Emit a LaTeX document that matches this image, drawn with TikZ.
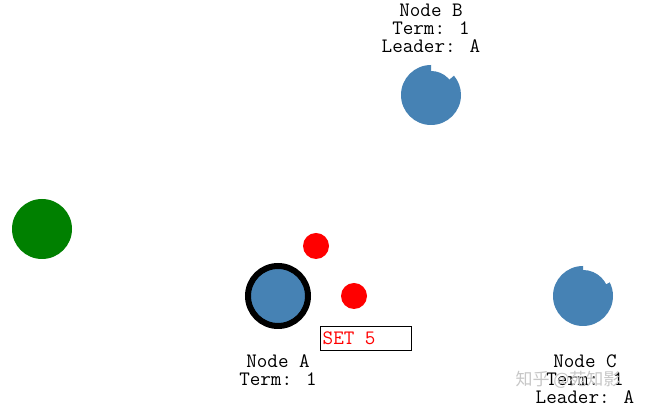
\documentclass[tikz,border=0pt]{standalone}
\usepackage{fontspec}
\newfontfamily\cjk{Noto Sans CJK SC}
\definecolor{steel}{RGB}{70,130,180}
\definecolor{grn}{RGB}{0,128,0}
\definecolor{rd}{RGB}{255,0,0}
\begin{document}
\begin{tikzpicture}[x=1pt,y=1pt,
  lbl/.style={align=center,inner sep=0pt,font=\ttfamily\fontsize{20.5}{18}\selectfont},
  srv/.style={circle,fill=steel,minimum size=60pt,inner sep=0pt},
  msg/.style={circle,fill=rd,minimum size=26pt,inner sep=0pt}]
\useasboundingbox[fill=white] (0,0) rectangle (653,411);
% green client
\node[circle,fill=grn,minimum size=60pt,inner sep=0pt] (client) at (42,182) {};
% Node A (leader)
\node[srv,draw=black,line width=6pt,minimum size=60pt] (A) at (278,115) {};
\node[lbl] (Alabel) at (278,41) {Node A\\Term: 1};
% Node B
\coordinate (B) at (431,316);
\fill[steel] (B) circle[radius=24];
\fill[steel] (B) -- ++(90:30) arc[start angle=90,end angle=400,radius=30] -- cycle;
\node[lbl] (Blabel) at (431,383) {Node B\\Term: 1\\Leader: A};
% Node C
\coordinate (C) at (583,115);
\fill[steel] (C) circle[radius=26];
\fill[steel] (C) -- ++(90:30) arc[start angle=90,end angle=387,radius=30] -- cycle;
\node[lbl] (Clabel) at (585,32) {Node C\\Term: 1\\Leader: A};
% messages
\node[msg] (m1) at (316,165) {};
\node[msg] (m2) at (354,115) {};
% SET 5 box
\node[draw=black,line width=1pt,minimum width=91pt,minimum height=23.5pt,inner sep=0pt,anchor=north west] (set) at (319.5,84.5) {};
\node[lbl,text=rd,anchor=west] (settext) at (322.5,72.5) {SET 5};
% watermark
\node[font=\cjk\fontsize{17}{17}\selectfont,text=black!22,anchor=west] (wm) at (512,31) {知乎 @苑知影};
\end{tikzpicture}
\end{document}
